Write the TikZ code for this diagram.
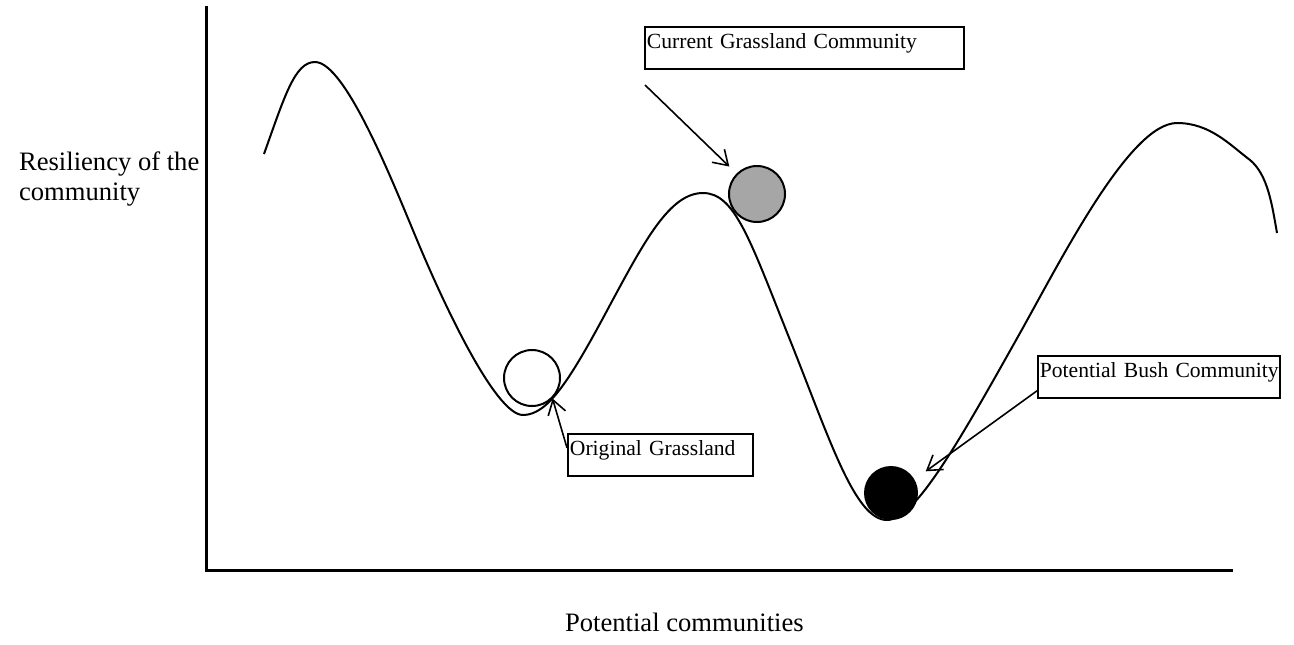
\documentclass[tikz,border=0pt]{standalone}
\usepackage{fontspec}
\setmainfont{Liberation Serif}
\usetikzlibrary{arrows.meta}

\begin{document}
\begin{tikzpicture}[x=0.5pt,y=-0.5pt,
    tag/.style={draw,line width=0.9pt,rectangle,anchor=north west,
      inner xsep=1pt,inner ysep=0pt,text height=11pt,text depth=10pt,
      align=left,font=\fontsize{10.8}{12}\selectfont},
    axislbl/.style={anchor=base west,align=left,
      font=\fontsize{13.3}{15}\selectfont},
    ball/.style={circle,draw,line width=1pt,inner sep=0pt},
    pointer/.style={-{Straight Barb[length=7pt,width=9pt]},line width=0.8pt}]
  \useasboundingbox (0,0) rectangle (1294,644);
  % axes
  \draw[line width=1.5pt] (206,6) -- (206,570) -- (1233,570);
  \node[axislbl] (ylbl) at (12,200) {Resiliency of the\\community};
  \node[axislbl] (xlbl) at (558,631) {Potential communities};
  % the landscape of valleys and hills
  \draw[line width=1pt] (264,154) .. controls (285,95) and (295,62) .. (315,62)
    .. controls (345,62) and (392,180) .. (417,240)
    .. controls (442,300) and (495,415) .. (523,415)
    .. controls (548,415) and (570,380) .. (610,305)
    .. controls (645,240) and (670,193) .. (703,193)
    .. controls (735,193) and (750,240) .. (790,340)
    .. controls (830,440) and (855,520) .. (887,520)
    .. controls (915,520) and (960,440) .. (1020,333)
    .. controls (1062,258) and (1130,123) .. (1177,123)
    .. controls (1210,123) and (1230,145) .. (1250,160)
    .. controls (1268,175) and (1272,205) .. (1277,233);
  % balls
  \node[ball,fill=white,minimum size=28pt] (orig) at (532,378) {};
  \node[ball,fill=black!35,minimum size=28pt] (grass) at (757,194) {};
  \node[ball,fill=black,minimum size=26pt] (bush) at (891,493) {};
  % labels
  \node[tag,text width=157.5pt] (grasslbl) at (644,26) {\mbox{Current Grassland Community}};
  \node[tag,text width=90.5pt] (origlbl) at (567,433) {\mbox{Original Grassland}};
  \node[tag,text width=119pt] (bushlbl) at (1037,355) {\mbox{Potential Bush Community}};
  \coordinate (grasstail) at (645,85);
  \draw[pointer,shorten >=5pt] (grasstail) -- (grass.north west);
  \draw[pointer] ([yshift=3.5pt]origlbl.west) -- (orig.south east);
  \draw[pointer,shorten >=7pt] ([yshift=4pt]bushlbl.south west) -- (bush.30);
\end{tikzpicture}
\end{document}
